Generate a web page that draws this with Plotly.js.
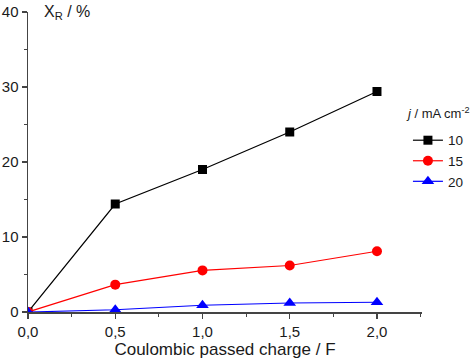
<!DOCTYPE html>
<html><head><meta charset="utf-8">
<script src="https://cdn.plot.ly/plotly-3.0.1.min.js"></script>
<style>html,body{margin:0;padding:0;background:#fff}</style>
</head><body><div id="chart" style="width:476px;height:359px"></div>
<script>
var charge = [0, 0.5, 1.0, 1.5, 2.0];
var names = ['10', '15', '20'];
var xr10 = [0, 14.4, 19.0, 24.0, 29.4];
var xr15 = [0, 3.65, 5.55, 6.2, 8.1];
var xr20 = [0, 0.3, 0.9, 1.2, 1.3];
var colors = ['#000000', '#ff0000', '#0000ff'];
var symbols = ['square', 'circle', 'triangle-up'];
var sizes = [9, 10, 11];
var series = [xr10, xr15, xr20];

var traces = series.map(function(s, i){
  return {x: charge, y: s, name: names[i], type: 'scatter', mode: 'lines+markers',
    line: {color: colors[i], width: 1.2},
    marker: {symbol: symbols[i], size: sizes[i], color: colors[i]}};
});

var fam = 'Liberation Sans, Arial, sans-serif';
var tickFont = {family: fam, size: 15, color: '#1a1a1a'};
var titleFont = {family: fam, size: 17, color: '#1a1a1a'};
var layout = {
  width: 476, height: 359,
  margin: {l: 28, r: 54, t: 12, b: 47, autoexpand: false},
  paper_bgcolor: '#fff', plot_bgcolor: '#fff',
  font: tickFont,
  showlegend: true,
  separators: ',.',
  xaxis: {range: [0, 2.258], tickvals: [0, 0.5, 1.0, 1.5, 2.0], tickformat: '.1f', automargin: false,
    showgrid: false, zeroline: false, showline: true, linecolor: '#444', linewidth: 1.5,
    ticks: 'outside', ticklen: 5, tickwidth: 1.5, tickcolor: '#444', tickfont: tickFont,
    minor: {tickvals: [0.25, 0.75, 1.25, 1.75, 2.25], ticks: 'outside', ticklen: 3, tickwidth: 1, tickcolor: '#444'},
    title: {text: 'Coulombic passed charge / F', font: titleFont, standoff: 4}},
  yaxis: {range: [0, 40], tickvals: [0, 10, 20, 30, 40], automargin: false,
    showgrid: false, zeroline: false, showline: true, linecolor: '#444', linewidth: 1.5,
    ticks: 'outside', ticklen: 5, tickwidth: 1.5, tickcolor: '#444', tickfont: tickFont,
    minor: {tickvals: [5, 15, 25, 35], ticks: 'outside', ticklen: 3, tickwidth: 1, tickcolor: '#444'}},
  legend: {xref: 'container', yref: 'container', x: 0.857, xanchor: 'left', y: 0.652, yanchor: 'top',
    bgcolor: 'rgba(0,0,0,0)', font: {family: fam, size: 13.5, color: '#1a1a1a'}, tracegroupgap: 0, itemwidth: 30},
  annotations: [
    {xref: 'paper', yref: 'paper', x: 0.035, y: 1.038, xanchor: 'left', yanchor: 'top',
     text: 'X<sub>R</sub> / %', showarrow: false, font: {family: fam, size: 16, color: '#1a1a1a'}},
    {xref: 'paper', yref: 'paper', x: (404 - 28) / 394, y: (311.7 - 113) / 300, xanchor: 'left', yanchor: 'middle',
     text: '<i>j</i> / mA cm<sup>-2</sup>', showarrow: false, font: {family: fam, size: 13, color: '#1a1a1a'}}
  ]
};
Plotly.newPlot('chart', traces, layout, {displayModeBar: false, staticPlot: true});
</script></body></html>
